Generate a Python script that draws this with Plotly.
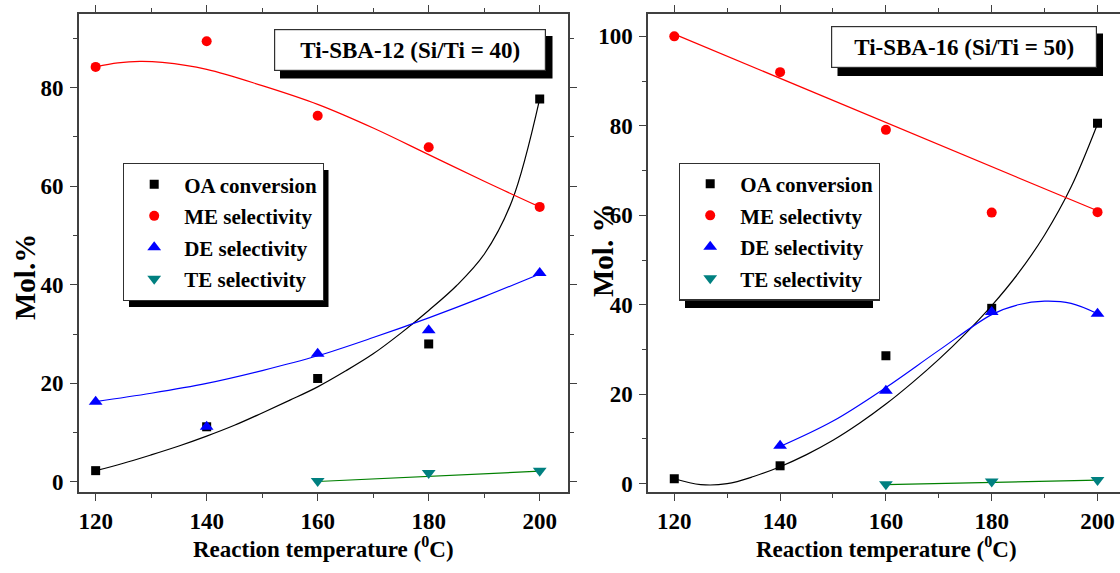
import plotly.graph_objects as go

# ---------------- data ----------------
temps = [120, 140, 160, 180, 200]
te_temps = [160, 180, 200]

# Ti-SBA-12 (Si/Ti = 40)
oa_L = [2.3, 11.2, 21.0, 28.0, 77.7]
me_L = [84.2, 89.4, 74.3, 67.9, 55.8]
de_L = [16.3, 11.2, 26.0, 30.8, 42.4]
te_L = [0.2, 1.8, 2.3]

# fitted curves as drawn
oa_fit_xL = [120, 125, 130, 135, 140, 145, 150, 155, 160, 165, 170, 175, 180, 185, 190, 195, 200]
oa_fit_yL = [2.3, 3.8, 5.5, 7.3, 9.3, 11.5, 14.0, 16.6, 19.3, 22.5, 26.0, 30.2, 34.8, 39.8,
             46.2, 57.0, 77.7]
me_fit_xL = [120, 124, 128, 132, 140, 150, 160, 170, 180, 190, 200]
me_fit_yL = [84.2, 85.0, 85.3, 85.1, 83.7, 80.4, 76.6, 71.8, 66.4, 61.0, 55.8]
de_fit_xL = [120, 130, 140, 150, 160, 170, 180, 190, 200]
de_fit_yL = [16.3, 18.0, 20.0, 22.6, 25.6, 29.3, 33.3, 37.6, 42.2]
te_fit_xL = [160, 200]
te_fit_yL = [0.1, 2.2]

# Ti-SBA-16 (Si/Ti = 50)
oa_R = [1.1, 4.0, 28.6, 39.2, 80.6]
me_R = [100.0, 92.0, 79.1, 60.6, 60.7]
de_temps_R = [140, 160, 180, 200]
de_R = [8.5, 20.8, 38.4, 38.0]
te_R = [-0.1, 0.5, 0.8]

oa_fit_xR = [120, 125, 130, 135, 140, 145, 150, 155, 160, 165, 170, 175, 180, 185, 190, 195, 200]
oa_fit_yR = [1.1, -0.2, 0.0, 1.6, 3.8, 6.5, 9.7, 13.5, 17.8, 22.6, 27.8, 33.5, 39.8, 47.0, 55.6, 66.3, 80.4]
me_fit_xR = [120, 200]
me_fit_yR = [100.5, 61.0]
de_fit_xR = [140, 150, 160, 170, 180, 185, 190, 195, 200]
de_fit_yR = [8.3, 14.0, 21.5, 29.8, 37.8, 40.0, 40.8, 40.3, 38.0]
te_fit_xR = [160, 200]
te_fit_yR = [-0.2, 0.8]

names_L = ["OA conversion", "ME selectivity", "DE selectivity", "TE selectivity"]
names_R = ["OA conversion", "ME selectivty", "DE selectivity", "TE selectivity"]
title_L = "Ti-SBA-12 (Si/Ti = 40)"
title_R = "Ti-SBA-16 (Si/Ti = 50)"
xtitle = "Reaction temperature (<sup>0</sup>C)"
ytitle_L = "Mol.%"
ytitle_R = "Mol. %"

# ---------------- styling ----------------
W, H = 1120, 573
ML, MR, MT, MB = 79, 0, 14, 81
PW, PH = W - ML - MR, H - MT - MB
FONT = "Times New Roman, Liberation Serif, Tinos, serif"
AX = "#404040"


def px(xp):
    return (xp - ML) / PW


def py(yp):
    return (H - MB - yp) / PH


line_col = {"OA": "black", "ME": "#ff0000", "DE": "#0000ff", "TE": "#008000"}
mk = {
    "OA": dict(symbol="square", color="black", size=9),
    "ME": dict(symbol="circle", color="#ff0000", size=10),
    "DE": dict(symbol="triangle-up", color="#0000ff", size=12),
    "TE": dict(symbol="triangle-down", color="#008080", size=12),
}

fig = go.Figure()


def add_panel(xa, ya, legend, names, fits, pts):
    keys = ["OA", "ME", "DE", "TE"]
    for k in keys:
        fx, fy = fits[k]
        fig.add_trace(go.Scatter(x=fx, y=fy, mode="lines", xaxis=xa, yaxis=ya,
                                 line=dict(color=line_col[k], width=1.2, shape="spline", smoothing=1.0),
                                 showlegend=False, hoverinfo="skip"))
    for i, k in enumerate(keys):
        x, y = pts[k]
        fig.add_trace(go.Scatter(x=x, y=y, mode="markers", xaxis=xa, yaxis=ya,
                                 marker=dict(symbol=mk[k]["symbol"], color=mk[k]["color"],
                                             size=mk[k]["size"], line=dict(width=0)),
                                 name=names[i], legend=legend, legendgroup=legend + k,
                                 legendrank=i + 1))


add_panel("x", "y", "legend", names_L,
          {"OA": (oa_fit_xL, oa_fit_yL), "ME": (me_fit_xL, me_fit_yL),
           "DE": (de_fit_xL, de_fit_yL), "TE": (te_fit_xL, te_fit_yL)},
          {"OA": (temps, oa_L), "ME": (temps, me_L), "DE": (temps, de_L), "TE": (te_temps, te_L)})
add_panel("x2", "y2", "legend2", names_R,
          {"OA": (oa_fit_xR, oa_fit_yR), "ME": (me_fit_xR, me_fit_yR),
           "DE": (de_fit_xR, de_fit_yR), "TE": (te_fit_xR, te_fit_yR)},
          {"OA": (temps, oa_R), "ME": (temps, me_R), "DE": (de_temps_R, de_R), "TE": (te_temps, te_R)})

tickfont = dict(family=FONT, size=23, color="black", weight="bold")
common = dict(showline=True, linecolor=AX, linewidth=1.6, ticks="outside", ticklen=7,
              tickwidth=1.3, tickcolor=AX, showgrid=False, zeroline=False, tickfont=tickfont,
              minor=dict(ticks="outside", ticklen=4, tickwidth=1.2, tickcolor=AX, dtick=10, showgrid=False))

dom_L = [0, px(568.3)]
dom_R = [px(648.2), 1]

fig.update_layout(
    width=W, height=H, margin=dict(l=ML, r=MR, t=MT, b=MB),
    plot_bgcolor="white", paper_bgcolor="white",
    xaxis=dict(domain=dom_L, range=[117.0, 205.15], tick0=120, dtick=20, mirror="ticks",
               ticklabelstandoff=1, anchor="y", **common),
    yaxis=dict(domain=[0, 1], range=[-2.03, 94.93], tick0=0, dtick=20, mirror="ticks",
               ticklabelstandoff=2, anchor="x", **common),
    xaxis2=dict(domain=dom_R, range=[115.07, 204.25], tick0=120, dtick=20, mirror="ticks",
                ticklabelstandoff=1, anchor="y2", **common),
    yaxis2=dict(domain=[0, 1], range=[-1.86, 105.0], tick0=0, dtick=20, mirror=False,
                ticklabelstandoff=2, anchor="x2", **common),
)

leg_common = dict(bgcolor="white", bordercolor="#303030", borderwidth=1.2,
                  font=dict(family=FONT, size=21, color="black", weight="bold"),
                  traceorder="grouped", tracegroupgap=1.2, itemwidth=50,
                  xanchor="left", yanchor="top", itemclick=False)
fig.update_layout(
    legend=dict(x=px(123), y=py(163), **leg_common),
    legend2=dict(x=px(679), y=py(162.5), **leg_common),
)

# shadows for legends and title boxes
shadows = [
    (129, 170, 328.5, 307),    # left legend
    (685, 169.5, 873, 308),    # right legend
    (280, 36, 552.5, 78.5),    # left title box
    (837.5, 33.5, 1103, 76),   # right title box
]
for (x0, y0, x1, y1) in shadows:
    fig.add_shape(type="rect", xref="paper", yref="paper", x0=px(x0), x1=px(x1),
                  y0=py(y1), y1=py(y0), fillcolor="black", line=dict(width=0), layer="above")

annfont = dict(family=FONT, size=23, color="black", weight="bold")
fig.add_annotation(xref="paper", yref="paper", x=px(410), y=py(50), text=title_L, showarrow=False,
                   font=annfont, bgcolor="white", bordercolor="#303030", borderwidth=1.2,
                   borderpad=1, width=268, height=38, xanchor="center", yanchor="middle")
fig.add_annotation(xref="paper", yref="paper", x=px(963.7), y=py(47.4), text=title_R, showarrow=False,
                   font=annfont, bgcolor="white", bordercolor="#303030", borderwidth=1.2,
                   borderpad=1, width=262, height=38, xanchor="center", yanchor="middle")

tfont = dict(family=FONT, size=23, color="black", weight="bold")
fig.add_annotation(xref="paper", yref="paper", x=px(323.5), y=py(547), text=xtitle, showarrow=False,
                   font=tfont, xanchor="center", yanchor="middle")
fig.add_annotation(xref="paper", yref="paper", x=px(886), y=py(547), text=xtitle, showarrow=False,
                   font=tfont, xanchor="center", yanchor="middle")
yfont = dict(family=FONT, size=29, color="black", weight="bold")
fig.add_annotation(xref="paper", yref="paper", x=px(25), y=py(277), text=ytitle_L, showarrow=False,
                   font=yfont, textangle=-90, xanchor="center", yanchor="middle")
fig.add_annotation(xref="paper", yref="paper", x=px(603), y=py(251), text=ytitle_R, showarrow=False,
                   font=yfont, textangle=-90, xanchor="center", yanchor="middle")

fig.write_html(
    "out.html",
    config={"displayModeBar": False},
    post_script="document.body.style.margin='0';document.body.style.padding='0';"
                "document.body.style.overflow='hidden';",
)
